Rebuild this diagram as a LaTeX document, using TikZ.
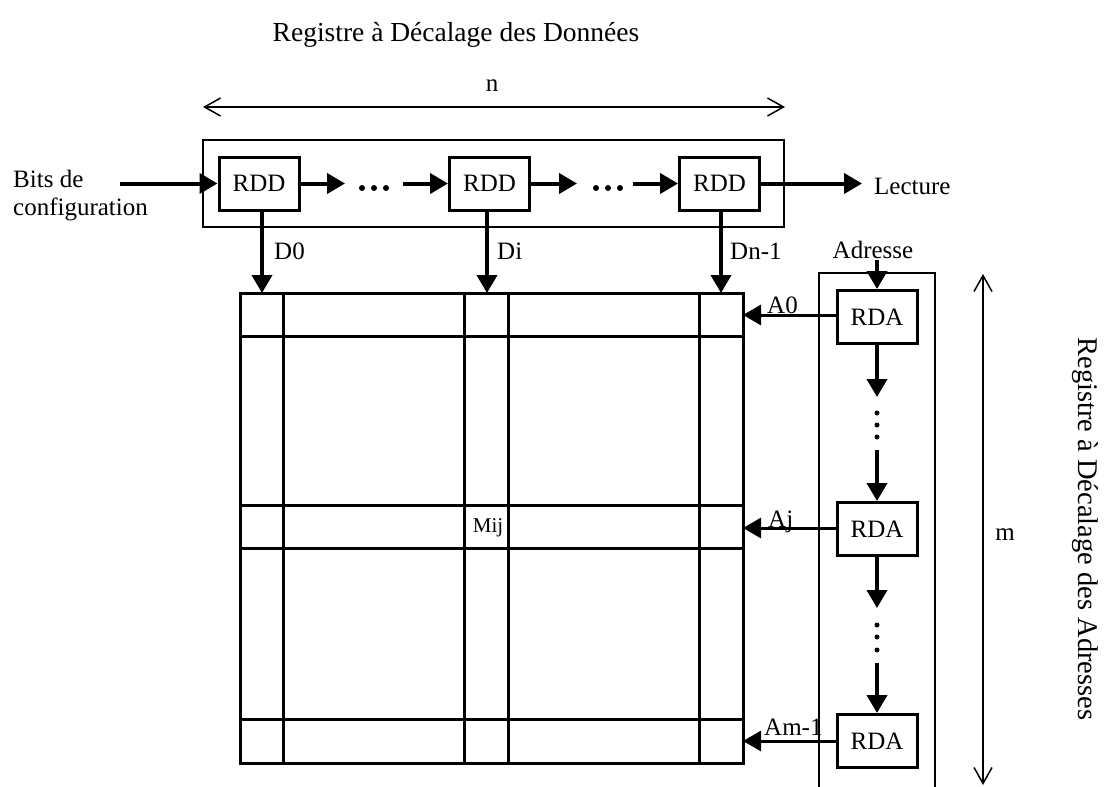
\documentclass[tikz,border=0pt]{standalone}
\usepackage{fontspec}
\setmainfont{Liberation Serif}
\usetikzlibrary{arrows.meta}
\begin{document}
\begin{tikzpicture}[x=1pt,y=-1pt,
  font=\fontsize{25}{28}\selectfont,
  reg/.style={draw, line width=3pt, minimum width=80pt, minimum height=53pt, inner sep=0pt},
  flow/.style={line width=4pt, -{Triangle[length=18pt,width=20pt]}},
  addr/.style={line width=3pt, -{Triangle[length=18pt,width=20pt]}},
  span/.style={line width=1.5pt, {Straight Barb[length=16pt,width=18pt]}-{Straight Barb[length=16pt,width=18pt]}},
  frame/.style={line width=2pt},
  gridline/.style={line width=3pt},
  dot/.style={circle, fill, inner sep=0pt, minimum size=6pt},
  lbl/.style={inner sep=1pt}
]
\useasboundingbox (0,0) rectangle (1109,787);

% titles and dimension arrows
\node[lbl, font=\fontsize{27.5}{30}\selectfont] (ttl) at (456,35) {Registre à Décalage des Données};
\coordinate (nl) at (203,107);
\coordinate (nr) at (785,107);
\draw[span] (nl) -- (nr);
\node[lbl] (nlab) at (492,86) {n};

\node[lbl, rotate=-90, font=\fontsize{28.5}{30}\selectfont] (ttlb) at (1085,529) {Registre à Décalage des Adresses};
\coordinate (mt) at (983,274);
\coordinate (mb) at (983,785);
\draw[span] (mt) -- (mb);
\node[lbl] (mlab) at (1005,535) {m};

% data shift register
\draw[frame] (203,140) rectangle (784,227);
\node[reg] (rdd1) at (259,183.5) {RDD};
\node[reg] (rdd2) at (489.5,183.5) {RDD};
\node[reg] (rdd3) at (719.5,183.5) {RDD};

\node[lbl, align=left, anchor=base west] (bits) at (12,215) {Bits de\\configuration};
\coordinate (in) at (120,183.5);
\draw[flow] (in) -- (rdd1.west);

\coordinate (h1) at (345,183.5);
\coordinate (h2) at (403,183.5);
\coordinate (h3) at (577,183.5);
\coordinate (h4) at (633,183.5);
\coordinate (h5) at (862,183.5);
\draw[flow] (rdd1.east) -- (h1);
\node[dot] (da1) at (362,188) {};
\node[dot] (da2) at (374,188) {};
\node[dot] (da3) at (386,188) {};
\draw[flow] (h2) -- (rdd2.west);
\draw[flow] (rdd2.east) -- (h3);
\node[dot] (db1) at (596,188) {};
\node[dot] (db2) at (608,188) {};
\node[dot] (db3) at (620,188) {};
\draw[flow] (h4) -- (rdd3.west);
\draw[flow] (rdd3.east) -- (h5);
\node[lbl, anchor=west] (lect) at (873,186) {Lecture};

% memory matrix
\node[draw, line width=3pt, minimum width=503pt, minimum height=470pt, inner sep=0pt] (grid) at (491.5,528) {};
\foreach \x in {283,464,508,699} \draw[gridline] (\x,293) -- (\x,763);
\foreach \y in {336,505,548,719} \draw[gridline] (240,\y) -- (743,\y);
\node[lbl, font=\fontsize{21}{24}\selectfont] (mij) at (488,528) {Mij};

% data lines
\coordinate (c0) at (262,293);
\coordinate (ci) at (487,293);
\coordinate (cn) at (721,293);
\draw[flow] (rdd1.south -| c0) -- (c0);
\draw[flow] (rdd2.south -| ci) -- (ci);
\draw[flow] (rdd3.south -| cn) -- (cn);
\node[lbl, anchor=west] (d0) at (273,251) {D0};
\node[lbl, anchor=west] (di) at (496,251) {Di};
\node[lbl, anchor=west] (dn) at (729,251) {Dn-1};

% address shift register
\draw[frame] (819,787) -- (819,273) -- (935,273) -- (935,787);
\node[reg] (rda1) at (877,317) {RDA};
\node[reg] (rda2) at (877,529) {RDA};
\node[reg] (rda3) at (877,741) {RDA};
\node[lbl] (adr) at (873,250) {Adresse};
\draw[flow] (adr.south -| rda1.north) -- (rda1.north);

\coordinate (v1) at (877,397);
\coordinate (v2) at (877,450);
\coordinate (v3) at (877,608);
\coordinate (v4) at (877,663);
\draw[flow] (rda1.south) -- (v1);
\node[dot, minimum size=5pt] (dc1) at (877,413) {};
\node[dot, minimum size=5pt] (dc2) at (877,425) {};
\node[dot, minimum size=5pt] (dc3) at (877,437) {};
\draw[flow] (v2) -- (rda2.north);
\draw[flow] (rda2.south) -- (v3);
\node[dot, minimum size=5pt] (dd1) at (877,625) {};
\node[dot, minimum size=5pt] (dd2) at (877,637) {};
\node[dot, minimum size=5pt] (dd3) at (877,650) {};
\draw[flow] (v4) -- (rda3.north);

% address lines
\coordinate (r0) at (743,315);
\coordinate (rj) at (743,528);
\coordinate (rm) at (743,741);
\draw[addr] (rda1.west |- r0) -- (r0);
\draw[addr] (rda2.west |- rj) -- (rj);
\draw[addr] (rda3.west |- rm) -- (rm);
\node[lbl, anchor=base west] (a0) at (766,313) {A0};
\node[lbl, anchor=base west] (aj) at (767,527) {Aj};
\node[lbl, anchor=base west] (am) at (763,735) {Am-1};
\end{tikzpicture}
\end{document}
